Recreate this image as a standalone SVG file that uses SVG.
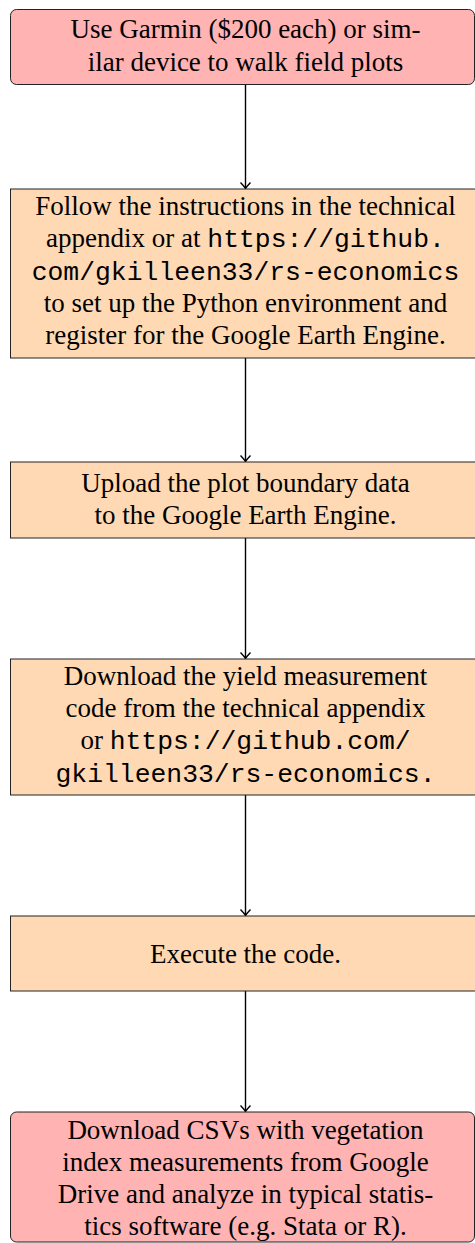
<svg xmlns="http://www.w3.org/2000/svg" width="475" height="1243" viewBox="0 0 475 1243">
<defs>
<style>
.box{stroke:#222;stroke-width:1}
.red{fill:#FFB3B3}
.org{fill:#FFD9B3}
.t{font-family:"Liberation Serif","Times New Roman",serif;font-size:27px;fill:#000;text-anchor:middle}
.m{font-family:"Liberation Mono","Courier New",monospace;font-size:26.4px}
.c{stroke:#000;stroke-width:1.4;fill:none}
</style>
<marker id="ah" markerWidth="14" markerHeight="14" refX="0" refY="0" viewBox="-7 -7 14 14" orient="auto" markerUnits="userSpaceOnUse">
<path d="M-6,-5 Q-2,-1.2 0,0 Q-2,1.2 -6,5" fill="none" stroke="#000" stroke-width="1.4"/>
</marker>
</defs>
<rect width="475" height="1243" fill="#fff"/>
<g id="connectors">
<line class="c" x1="245.5" y1="84" x2="245.5" y2="188.5" marker-end="url(#ah)"/>
<line class="c" x1="245.5" y1="358" x2="245.5" y2="461.5" marker-end="url(#ah)"/>
<line class="c" x1="245.5" y1="538" x2="245.5" y2="658.5" marker-end="url(#ah)"/>
<line class="c" x1="245.5" y1="795" x2="245.5" y2="915.5" marker-end="url(#ah)"/>
<line class="c" x1="245.5" y1="991" x2="245.5" y2="1111.5" marker-end="url(#ah)"/>
</g>
<g id="n1">
<rect class="box red" x="10.5" y="9.5" width="464" height="75" rx="6"/>
<text class="t" x="245.5" y="37.5">Use Garmin ($200 each) or sim-</text>
<text class="t" x="245.5" y="71">ilar device to walk field plots</text>
</g>
<g id="n2">
<rect class="box org" x="10.5" y="189" width="465" height="169"/>
<text class="t" x="245.5" y="215">Follow the instructions in the technical</text>
<text class="t" x="245.5" y="247">appendix or at <tspan class="m">https://github.</tspan></text>
<text class="t m" x="245.5" y="280">com/gkilleen33/rs-economics</text>
<text class="t" x="245.5" y="312">to set up the Python environment and</text>
<text class="t" x="245.5" y="343.5">register for the Google Earth Engine.</text>
</g>
<g id="n3">
<rect class="box org" x="10.5" y="462" width="465" height="76"/>
<text class="t" x="245.5" y="491.5">Upload the plot boundary data</text>
<text class="t" x="245.5" y="523.5">to the Google Earth Engine.</text>
</g>
<g id="n4">
<rect class="box org" x="10.5" y="659" width="465" height="136"/>
<text class="t" x="245.5" y="685">Download the yield measurement</text>
<text class="t" x="245.5" y="717">code from the technical appendix</text>
<text class="t" x="245.5" y="749">or <tspan class="m">https://github.com/</tspan></text>
<text class="t m" x="245.5" y="781.5">gkilleen33/rs-economics.</text>
</g>
<g id="n5">
<rect class="box org" x="10.5" y="916" width="465" height="75"/>
<text class="t" x="245.5" y="962.5">Execute the code.</text>
</g>
<g id="n6">
<rect class="box red" x="10.5" y="1112" width="464" height="130" rx="6"/>
<text class="t" x="245.5" y="1139">Download CSVs with vegetation</text>
<text class="t" x="245.5" y="1170.5">index measurements from Google</text>
<text class="t" x="245.5" y="1202.5">Drive and analyze in typical statis-</text>
<text class="t" x="245.5" y="1234.5">tics software (e.g.  Stata or R).</text>
</g>
</svg>
